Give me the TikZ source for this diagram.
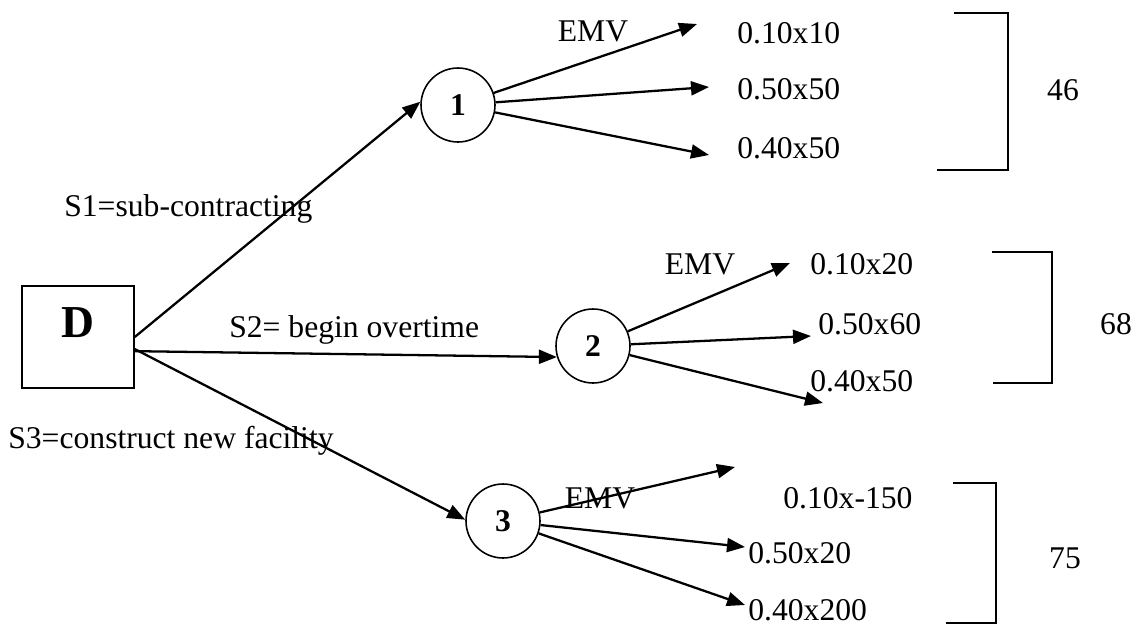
\documentclass[tikz,border=0pt]{standalone}
\usepackage{fontspec}
\setmainfont{Liberation Serif}
\usetikzlibrary{arrows.meta}

\begin{document}
\begin{tikzpicture}[
    x=0.02cm, y=-0.02cm,
    decision/.style={rectangle, draw, line width=0.9pt, minimum width=2.24cm, minimum height=2.04cm, text height=0.6cm, text depth=0.6cm, font=\fontsize{26}{30}\selectfont\bfseries},
    chance/.style={circle, draw, line width=0.9pt, minimum size=1.48cm, inner sep=0pt, font=\fontsize{18}{22}\selectfont\bfseries},
    lbl/.style={inner sep=0pt, anchor=base west, font=\fontsize{18}{22}\selectfont},
    emv/.style={lbl, anchor=base},
    arrow/.style={line width=1.3pt, -{Triangle[length=0.36cm, width=0.28cm]}},
    bracket/.style={line width=0.9pt}
]
    \useasboundingbox (0,0) rectangle (1137,626);

    % Decision and chance nodes
    \node (d) [decision] at (78,337) {D};
    \node (c1) [chance] at (458,105) {1};
    \node (c2) [chance] at (593,346) {2};
    \node (c3) [chance] at (503,521) {3};

    % Strategy labels
    \node (s1) [lbl] at (64,216) {S1=sub-contracting};
    \node (s2) [lbl] at (229,337) {S2= begin overtime};
    \node (s3) [lbl] at (8,448) {S3=construct new facility};

    % Outcome labels
    \node (emv1) [emv] at (593,41) {EMV};
    \node (p11) [lbl] at (737,43) {0.10x10};
    \node (p12) [lbl] at (737,99) {0.50x50};
    \node (p13) [lbl] at (737,158) {0.40x50};

    \node (emv2) [emv] at (700,274) {EMV};
    \node (p21) [lbl] at (810,274) {0.10x20};
    \node (p22) [lbl] at (818,334) {0.50x60};
    \node (p23) [lbl] at (810,391) {0.40x50};

    \node (emv3) [emv] at (600,508) {EMV};
    \node (p31) [lbl] at (783,508) {0.10x-150};
    \node (p32) [lbl] at (748,563) {0.50x20};
    \node (p33) [lbl] at (748,620) {0.40x200};

    % Expected values
    \node (v1) [emv] at (1063,100) {46};
    \node (v2) [emv] at (1116,334) {68};
    \node (v3) [emv] at (1065,568) {75};

    % Free ends of the branches
    \coordinate (t11) at (697,24);
    \coordinate (t12) at (709,87);
    \coordinate (t13) at (709,155);
    \coordinate (t21) at (790,263);
    \coordinate (t22) at (811,336);
    \coordinate (t23) at (823,403);
    \coordinate (t31) at (735,467);
    \coordinate (t32) at (745,547);
    \coordinate (t33) at (745,605);

    % Strategies
    \draw [arrow] (d.east) -- (c1.175);
    \draw [arrow] (d.-14) -- (c2.197);
    \draw [arrow] (d.-12) -- (c3.178);

    % Branches
    \draw [arrow] (c1) -- (t11);
    \draw [arrow] (c1) -- (t12);
    \draw [arrow] (c1) -- (t13);
    \draw [arrow] (c2) -- (t21);
    \draw [arrow] (c2) -- (t22);
    \draw [arrow] (c2) -- (t23);
    \draw [arrow] (c3) -- (t31);
    \draw [arrow] (c3) -- (t32);
    \draw [arrow] (c3) -- (t33);

    % Brackets
    \draw [bracket] (954,13) -- (1008,13) -- (1008,170) -- (937,170);
    \draw [bracket] (992,252) -- (1052,252) -- (1052,383) -- (993,383);
    \draw [bracket] (953,483) -- (996,483) -- (996,623) -- (946,623);
\end{tikzpicture}
\end{document}
